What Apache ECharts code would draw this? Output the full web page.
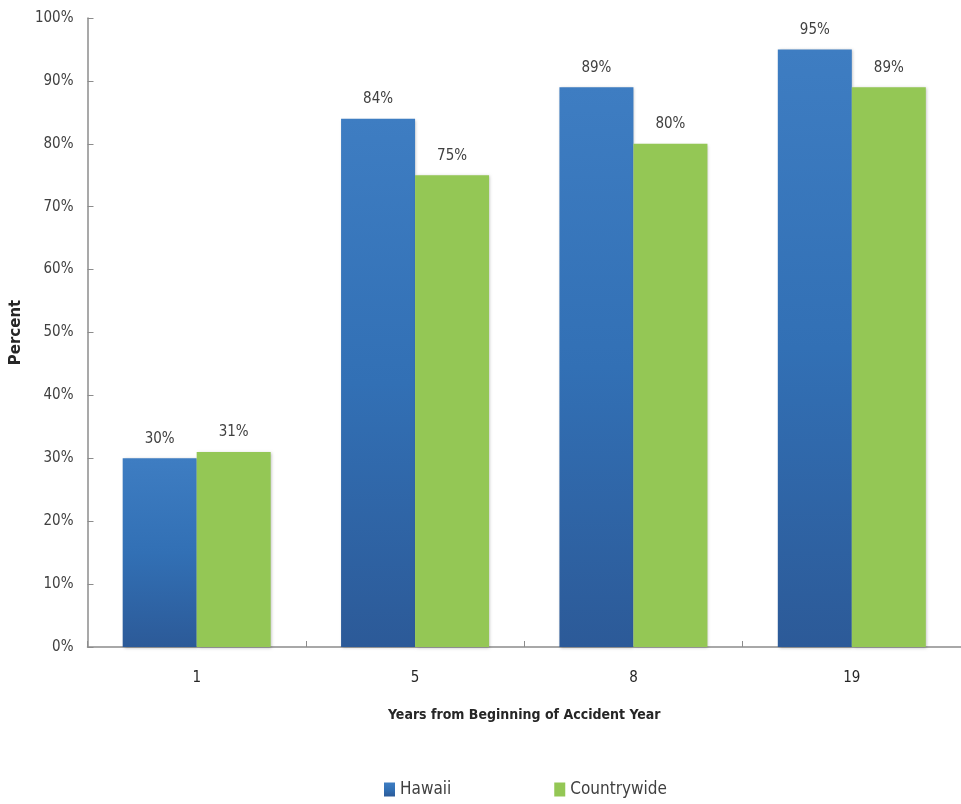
<!DOCTYPE html>
<html>
<head>
<meta charset="utf-8">
<script src="https://cdn.jsdelivr.net/npm/echarts@6/dist/echarts.min.js"></script>
<style>html,body{margin:0;padding:0;background:#fff}#c{width:961px;height:804px}</style>
</head>
<body>
<div id="c"></div>
<script>
const categories = ['1', '5', '8', '19'];
const hawaii = [30, 84, 89, 95];
const countrywide = [31, 75, 80, 89];
const yTicks = [0, 10, 20, 30, 40, 50, 60, 70, 80, 90, 100];

const FONT = '"DejaVu Sans Condensed", "Open Sans", "Noto Sans", sans-serif';
const chart = echarts.init(document.getElementById('c'));
const labelCfg = {
  show: true, position: 'top', distance: 12,
  formatter: p => p.value + '%',
  color: '#404040', fontSize: 15, fontFamily: FONT
};
chart.setOption({
  animation: false,
  backgroundColor: '#fff',
  textStyle: { fontFamily: FONT },
  grid: { left: 87.5, top: 18, width: 877, bottom: 157, containLabel: false },
  legend: {
    bottom: 1, left: 379,
    itemWidth: 11, itemHeight: 14, itemGap: 103,
    icon: 'rect',
    textStyle: { fontSize: 17, color: '#404040', fontFamily: FONT },
    data: ['Hawaii', 'Countrywide']
  },
  xAxis: {
    type: 'category',
    data: categories,
    name: 'Years from Beginning of Accident Year',
    nameLocation: 'middle', nameGap: 61,
    nameTextStyle: { fontSize: 14, fontWeight: 'bold', color: '#262626', fontFamily: FONT },
    axisLine: { lineStyle: { color: '#8c8c8c', width: 1.5 } },
    axisTick: { show: true, inside: true, length: 6, lineStyle: { color: '#8c8c8c' } },
    axisLabel: { fontSize: 15, color: '#262626', margin: 24, fontFamily: FONT },
    splitLine: { show: false }
  },
  yAxis: {
    type: 'value', min: 0, max: 100, interval: 10,
    name: 'Percent',
    nameLocation: 'middle', nameGap: 61, nameRotate: 90,
    nameTextStyle: { fontSize: 15, fontWeight: 'bold', color: '#262626', fontFamily: '"DejaVu Sans", sans-serif' },
    axisLine: { show: true, lineStyle: { color: '#8c8c8c', width: 1.5 } },
    axisTick: { show: true, inside: true, length: 6, lineStyle: { color: '#8c8c8c' } },
    axisLabel: {
      fontSize: 15, color: '#404040', margin: 14, fontFamily: FONT,
      formatter: v => yTicks.includes(v) ? v + '%' : ''
    },
    splitLine: { show: false }
  },
  series: [
    {
      name: 'Hawaii', type: 'bar', data: hawaii,
      barWidth: 74, barGap: '0%',
      itemStyle: {
        color: new echarts.graphic.LinearGradient(0, 0, 0, 1, [
          { offset: 0, color: '#3e7dc2' },
          { offset: 0.5, color: '#3270b5' },
          { offset: 1, color: '#2c5a98' }
        ]),
        shadowColor: 'rgba(0,0,0,0.25)', shadowBlur: 3, shadowOffsetX: 1, shadowOffsetY: 1
      },
      label: labelCfg
    },
    {
      name: 'Countrywide', type: 'bar', data: countrywide,
      barWidth: 74,
      itemStyle: {
        color: '#94c755',
        shadowColor: 'rgba(0,0,0,0.25)', shadowBlur: 3, shadowOffsetX: 1, shadowOffsetY: 1
      },
      label: labelCfg
    }
  ]
});
</script>
</body>
</html>
